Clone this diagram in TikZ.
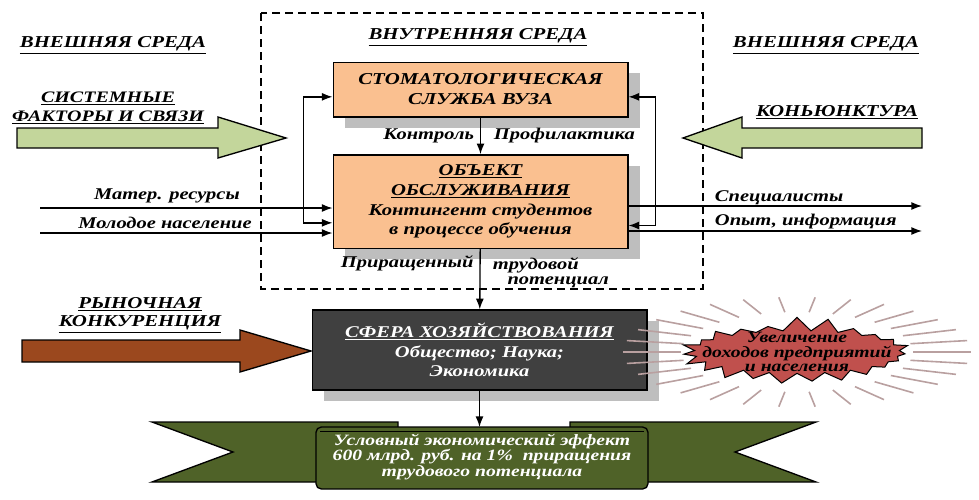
\documentclass[tikz,border=0pt]{standalone}
\usepackage{fontspec}
\setmainfont{Liberation Serif}[FakeStretch=1.25]
\usetikzlibrary{arrows.meta,shadows,shapes.symbols,calc}

\definecolor{peach}{RGB}{250,192,144}
\definecolor{shade}{RGB}{190,190,190}
\definecolor{lgreen}{RGB}{195,214,155}
\definecolor{rust}{RGB}{155,72,30}
\definecolor{coal}{RGB}{64,64,64}
\definecolor{burst}{RGB}{192,80,77}
\definecolor{rays}{RGB}{185,160,160}
\definecolor{olive}{RGB}{79,98,40}

\newcommand{\bifont}[2]{\fontsize{#1}{#2}\selectfont\bfseries\itshape}

\tikzset{every picture/.style={line width=0.75pt}}
\tikzset{
	flow/.style={-{Latex[length=8pt,width=6pt]}, line width=1pt},
	twoway/.style={{Latex[length=8pt,width=6pt]}-{Latex[length=8pt,width=6pt]}, line width=1pt},
	head/.style={font=\bifont{12.5}{14}, align=center},
	lbl/.style={font=\bifont{12.3}{13}},
	unit/.style={draw, line width=1pt, fill=peach, align=center, minimum width=221pt,
		drop shadow={shadow xshift=9pt, shadow yshift=-8pt, fill=shade, opacity=1}},
	bigarrow/.style={draw, line width=1pt}}

\begin{document}
\begin{tikzpicture}[x=0.75pt,y=0.75pt,yscale=-1,xscale=1]
	\useasboundingbox (0,0) rectangle (979,500);

	%Shape: Rectangle (inner environment)
	\draw [dash pattern={on 6pt off 3.75pt}, line width=1pt] (261,13) rectangle (703,289);

	%Shape: Right Arrow
	\draw [bigarrow, fill=lgreen] (17,128) -- (218,128) -- (218,117) -- (286,138) -- (218,158) -- (218,148) -- (17,148) -- cycle;
	%Shape: Left Arrow
	\draw [bigarrow, fill=lgreen] (922,128) -- (742,128) -- (742,117) -- (683,138) -- (742,158) -- (742,148) -- (922,148) -- cycle;
	%Shape: Right Arrow
	\draw [bigarrow, fill=rust] (22,340) -- (240,340) -- (240,330) -- (311,351) -- (240,372) -- (240,362) -- (22,362) -- cycle;

	% Boxes
	\node [unit, minimum height=41pt, font=\bifont{12.5}{15}] (svc) at (480.5,89.5) {СТОМАТОЛОГИЧЕСКАЯ\\СЛУЖБА ВУЗА};
	\node [unit, minimum height=70pt, font=\bifont{12.4}{14.8}] (obj) at (480.5,201.5) {\underline{ОБЪЕКТ}\\\underline{ОБСЛУЖИВАНИЯ}\\Контингент студентов\\в процессе обучения};
	\node [unit, fill=coal, text=white, minimum width=251pt, minimum height=60pt, font=\bifont{12.3}{14.6}] (eco) at (479.5,350) {\underline{СФЕРА ХОЗЯЙСТВОВАНИЯ}\\Общество; Наука;\\Экономика};

	%Shape: Starburst
	\foreach \a in {0,12,...,359}
		\draw [rays, line width=1.2pt] ($(797,352)+(\a:116 and 40)$) -- ($(797,352)+(\a:174 and 55)$);
	\node [starburst, starburst points=23, starburst point height=11pt, random starburst=7,
		draw, fill=burst, line width=0.75pt, minimum width=176pt, minimum height=54pt] (gain) at (797,352) {};
	\node [font=\bifont{11.8}{10.6}, align=center] (gainT) at (gain.center) {Увеличение\\доходов предприятий\\и населения};

	%Shape: Ribbon
	\draw [fill=olive, line width=1pt] (398,422) -- (152,422) -- (233,452) -- (152,482) -- (398,482) -- cycle;
	\draw [fill=olive, line width=1pt] (570,422) -- (816,422) -- (735,452) -- (816,482) -- (570,482) -- cycle;
	\draw [fill=olive, line width=1pt, rounded corners=4pt] (316,427) rectangle (648,489);
	\draw [line width=0.75pt] (320,431) -- (644,431);
	\coordinate (ribtop) at (482,427);
	\node [font=\bifont{11.8}{11.6}, text=white, align=center] (effect) at (482,457) {Условный экономический эффект\\600 млрд. руб. на 1\%\ \ приращения\\трудового потенциала};

	%Straight Lines
	\draw [flow] (svc) -- (obj);
	\draw [flow] (obj) -- (eco);
	\draw [flow] (eco) -- (eco.south |- ribtop);
	\draw [twoway] ([yshift=5.5pt]svc.west) -- ++(-29,0) |- ([yshift=16pt]obj.west);
	\draw [twoway] ([yshift=5.5pt]svc.east) -- ++(27,0) |- ([yshift=18pt]obj.east);

	\coordinate (inA) at (40,208);
	\coordinate (inB) at (40,233);
	\coordinate (outA) at (922,206);
	\coordinate (outB) at (922,231);
	\draw [flow] (inA) -- (inA -| obj.west);
	\draw [flow] (inB) -- (inB -| obj.west);
	\draw [flow] (outA -| obj.east) -- (outA);
	\draw [flow] (outB -| obj.east) -- (outB);

	% Text Node
	\node [head] (extL) at (113,45) {\underline{ВНЕШНЯЯ СРЕДА}};
	% Text Node
	\node [head] (extR) at (826,45) {\underline{ВНЕШНЯЯ СРЕДА}};
	% Text Node
	\node [head] (intT) at (478,37) {\underline{ВНУТРЕННЯЯ СРЕДА}};
	% Text Node
	\node [head, font=\bifont{12}{14}] (sysT) at (108,108) {\underline{СИСТЕМНЫЕ}\\\underline{ФАКТОРЫ И СВЯЗИ}};
	% Text Node
	\node [head] (konT) at (837,112) {\underline{КОНЬЮНКТУРА}};
	% Text Node
	\node [head] (rynT) at (140,315) {\underline{РЫНОЧНАЯ}\\\underline{КОНКУРЕНЦИЯ}};
	% Text Node
	\node [lbl, anchor=base] (matL) at (167,199) {Матер. ресурсы};
	% Text Node
	\node [lbl, anchor=base] (popL) at (165,228) {Молодое население};
	% Text Node
	\node [lbl, anchor=base west] (spcL) at (710,201) {Специалисты};
	% Text Node
	\node [lbl, anchor=base west] (expL) at (710,225) {Опыт, информация};
	% Text Node
	\node [lbl, anchor=base east] (ctlL) at (479,139) {Контроль};
	% Text Node
	\node [lbl, anchor=base west] (prfL) at (489,139) {Профилактика};
	% Text Node
	\node [lbl, anchor=base west] (incL) at (336,267) {Приращенный};
	% Text Node
	\node [lbl, font=\bifont{12.3}{11}, align=left, anchor=north west, inner sep=1pt] (labL) at (491,256) {трудовой\\\hspace*{11pt}потенциал};

\end{tikzpicture}
\end{document}
